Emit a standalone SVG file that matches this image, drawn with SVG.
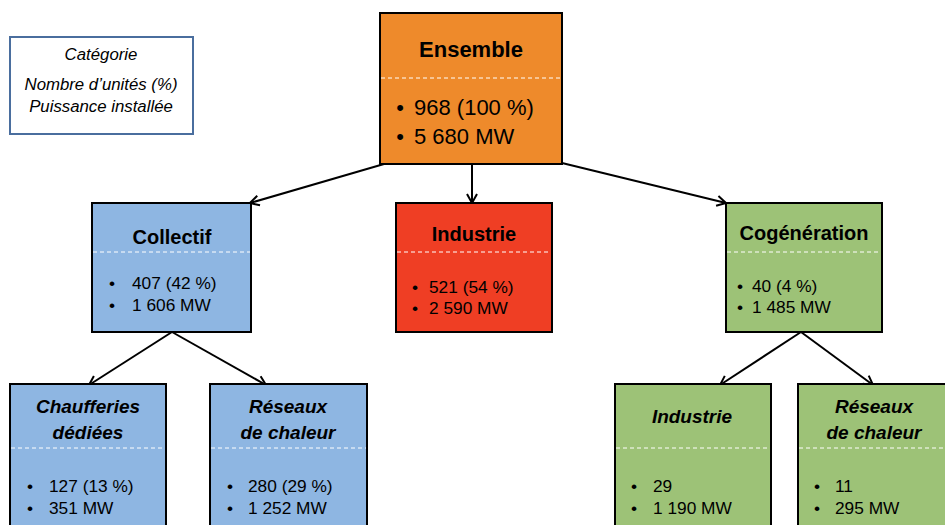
<svg xmlns="http://www.w3.org/2000/svg" width="945" height="525" viewBox="0 0 945 525">
<style>
.box{stroke:#000;stroke-width:2}
.orange{fill:#EE8A2B}
.blue{fill:#8EB6E2}
.red{fill:#EF3E24}
.green{fill:#9DC277}
.dash{stroke:#fff;stroke-width:1;stroke-dasharray:4 3;fill:none}
text{font-family:"Liberation Sans",Arial,sans-serif;fill:#000}
.t1{font-size:22px;font-weight:bold;text-anchor:middle}
.t2{font-size:20px;font-weight:bold;text-anchor:middle}
.t3{font-size:19px;font-weight:bold;font-style:italic;text-anchor:middle}
.b1{font-size:22px}
.b2{font-size:17.3px}
.dot{text-anchor:middle}
.leg{font-size:16.8px;font-style:italic;text-anchor:middle}
.conn{stroke:#000;stroke-width:2;fill:none}
</style>
<defs>
<marker id="arr" markerUnits="userSpaceOnUse" markerWidth="14" markerHeight="14" viewBox="0 0 14 14" refX="12" refY="7" orient="auto">
<path d="M3,2 L12,7 L3,12" fill="none" stroke="#000" stroke-width="2"/>
</marker>
</defs>
<g id="legend">
<rect x="10" y="37" width="183" height="97" fill="#fff" stroke="#4A6E9E" stroke-width="2"/>
<text class="leg" x="101" y="60">Catégorie</text>
<text class="leg" x="101" y="90">Nombre d’unités (%)</text>
<text class="leg" x="101" y="112">Puissance installée</text>
</g>
<g id="connectors">
<line class="conn" x1="384" y1="164" x2="250" y2="203" marker-end="url(#arr)"/>
<line class="conn" x1="472" y1="164" x2="472" y2="203" marker-end="url(#arr)"/>
<line class="conn" x1="562" y1="163" x2="726" y2="203" marker-end="url(#arr)"/>
<line class="conn" x1="172" y1="332" x2="89" y2="385" marker-end="url(#arr)"/>
<line class="conn" x1="172" y1="332" x2="266" y2="385" marker-end="url(#arr)"/>
<line class="conn" x1="801" y1="332" x2="720" y2="385" marker-end="url(#arr)"/>
<line class="conn" x1="801" y1="332" x2="873" y2="385" marker-end="url(#arr)"/>
</g>
<g id="ensemble">
<rect class="box orange" x="380" y="13" width="182" height="151"/>
<line class="dash" x1="381" y1="78" x2="561" y2="78"/>
<text class="t1" x="471" y="57">Ensemble</text>
<text class="b1 dot" x="400" y="115">•</text><text class="b1" x="414" y="115">968 (100 %)</text>
<text class="b1 dot" x="400" y="144">•</text><text class="b1" x="414" y="144">5 680 MW</text>
</g>
<g id="collectif">
<rect class="box blue" x="92" y="203" width="159" height="129"/>
<line class="dash" x1="93" y1="252" x2="250" y2="252"/>
<text class="t2" x="172" y="244">Collectif</text>
<text class="b2 dot" x="112" y="289">•</text><text class="b2" x="132" y="289">407 (42 %)</text>
<text class="b2 dot" x="112" y="311">•</text><text class="b2" x="132" y="311">1 606 MW</text>
</g>
<g id="industrie">
<rect class="box red" x="396" y="203" width="156" height="129"/>
<line class="dash" x1="397" y1="252" x2="551" y2="252"/>
<text class="t2" x="474" y="241">Industrie</text>
<text class="b2 dot" x="415" y="293">•</text><text class="b2" x="429" y="293">521 (54 %)</text>
<text class="b2 dot" x="415" y="314">•</text><text class="b2" x="429" y="314">2 590 MW</text>
</g>
<g id="cogeneration">
<rect class="box green" x="726" y="203" width="156" height="129"/>
<line class="dash" x1="727" y1="252" x2="881" y2="252"/>
<text class="t2" x="804" y="240">Cogénération</text>
<text class="b2 dot" x="740" y="292">•</text><text class="b2" x="752" y="292">40 (4 %)</text>
<text class="b2 dot" x="740" y="313">•</text><text class="b2" x="752" y="313">1 485 MW</text>
</g>
<g id="chaufferies">
<rect class="box blue" x="10" y="384" width="156" height="160"/>
<line class="dash" x1="11" y1="448" x2="165" y2="448"/>
<text class="t3" x="88" y="413">Chaufferies</text>
<text class="t3" x="88" y="439">dédiées</text>
<text class="b2 dot" x="30" y="492">•</text><text class="b2" x="49" y="492">127 (13 %)</text>
<text class="b2 dot" x="30" y="514">•</text><text class="b2" x="49" y="514">351 MW</text>
</g>
<g id="reseaux-collectif">
<rect class="box blue" x="210" y="384" width="157" height="160"/>
<line class="dash" x1="211" y1="448" x2="366" y2="448"/>
<text class="t3" x="288" y="413">Réseaux</text>
<text class="t3" x="288" y="439">de chaleur</text>
<text class="b2 dot" x="230" y="492">•</text><text class="b2" x="248" y="492">280 (29 %)</text>
<text class="b2 dot" x="230" y="514">•</text><text class="b2" x="248" y="514">1 252 MW</text>
</g>
<g id="industrie-cogen">
<rect class="box green" x="615" y="384" width="156" height="160"/>
<line class="dash" x1="616" y1="448" x2="770" y2="448"/>
<text class="t3" x="692" y="423">Industrie</text>
<text class="b2 dot" x="634" y="492">•</text><text class="b2" x="653" y="492">29</text>
<text class="b2 dot" x="634" y="514">•</text><text class="b2" x="653" y="514">1 190 MW</text>
</g>
<g id="reseaux-cogen">
<rect class="box green" x="798" y="384" width="156" height="160"/>
<line class="dash" x1="799" y1="448" x2="953" y2="448"/>
<text class="t3" x="874" y="413">Réseaux</text>
<text class="t3" x="874" y="439">de chaleur</text>
<text class="b2 dot" x="817" y="492">•</text><text class="b2" x="835" y="492">11</text>
<text class="b2 dot" x="817" y="514">•</text><text class="b2" x="835" y="514">295 MW</text>
</g>
</svg>
